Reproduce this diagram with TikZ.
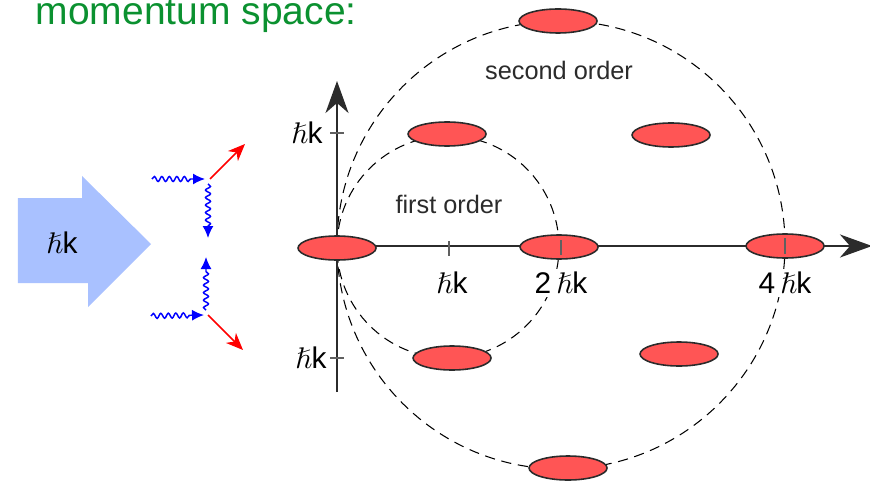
\documentclass[tikz,border=0pt]{standalone}
\usepackage{amssymb}
\usepackage{fontspec}
\setmainfont{Liberation Sans}
\usepackage{tikz}
\usetikzlibrary{arrows.meta,positioning,shapes.geometric,decorations.pathmorphing}
\definecolor{titlec}{HTML}{0B9130}
\definecolor{beamc}{HTML}{A9C1FF}
\definecolor{spotc}{HTML}{FF5555}
\definecolor{axisc}{HTML}{2B2B2B}
\newcommand{\hk}{$\hslash$k}
\tikzset{
  spot/.style={draw=axisc,fill=spotc,ellipse,line width=0.45pt,minimum width=0.78cm,minimum height=0.24cm,inner sep=0pt},
  orderline/.style={black,line width=0.3pt,dash pattern=on 2.9pt off 1.9pt},
  axisline/.style={axisc,line width=0.7pt,-{Stealth[length=0.32cm,width=0.23cm,inset=0.1cm]}},
  tickline/.style={axisc!75,line width=0.3pt},
  hklabel/.style={font=\fontsize{8.5}{10}\selectfont,text=black,inner sep=1pt},
  orderlabel/.style={font=\fontsize{7.2}{9}\selectfont,text=axisc},
  photon/.style={blue,line width=0.42pt,-{Latex[length=0.12cm,width=0.11cm]},decorate,
    decoration={snake,amplitude=0.25mm,segment length=0.75mm,post length=1.1mm}},
  recoil/.style={red,line width=0.45pt,-{Stealth[length=0.17cm,width=0.14cm,inset=0.05cm]}}
}

\begin{document}
\begin{tikzpicture}
  \useasboundingbox (0,0) rectangle (8.7,4.82);
  \node[anchor=base west,inner sep=0pt,text=titlec,font=\fontsize{11.1}{13}\selectfont] (title) at (0.35,4.57) {momentum space:};
  % incoming beam
  \fill[beamc] (0.18,2.84) -- (0.82,2.84) -- (0.82,3.06) -- (1.51,2.38) -- (0.88,1.75) -- (0.88,1.99) -- (0.18,1.99) -- cycle;
  \node[hklabel] (beam) at (0.62,2.39) {\hk};
  % upper vertex
  \coordinate (ua) at (1.52,3.03);
  \coordinate (ub) at (2.05,3.03);
  \coordinate (uc) at (2.08,2.98);
  \coordinate (ud) at (2.08,2.44);
  \coordinate (ue) at (2.10,3.03);
  \coordinate (uf) at (2.45,3.38);
  \draw[photon] (ua) -- (ub);
  \draw[photon] (uc) -- (ud);
  \draw[recoil] (ue) -- (uf);
  % lower vertex
  \coordinate (la) at (1.51,1.66);
  \coordinate (lb) at (2.04,1.67);
  \coordinate (lc) at (2.06,1.72);
  \coordinate (ld) at (2.06,2.25);
  \coordinate (le) at (2.08,1.67);
  \coordinate (lf) at (2.43,1.32);
  \draw[photon] (la) -- (lb);
  \draw[photon] (lc) -- (ld);
  \draw[recoil] (le) -- (lf);
  % scattering orders
  \coordinate (firstc) at (4.48,2.35);
  \coordinate (secondc) at (5.61,2.37);
  \draw[orderline] (firstc) circle (1.11);
  \draw[orderline] (secondc) circle (2.24);
  \node[orderlabel] (firstl) at (4.49,2.78) {first order};
  \node[orderlabel] (secondl) at (5.59,4.12) {second order};
  % axis labels
  \node[hklabel,fill=white] (xa) at (4.52,1.99) {\hk};
  \node[hklabel,fill=white] (xb) at (5.61,1.99) {2\,\hk};
  \node[hklabel,fill=white] (xc) at (7.85,1.99) {4\,\hk};
  \node[hklabel] (ya) at (3.07,3.49) {\hk};
  \node[hklabel] (yb) at (3.11,1.24) {\hk};
  % axes
  \coordinate (xend) at (8.72,2.36);
  \coordinate (ytop) at (3.37,4.01);
  \coordinate (ybot) at (3.37,0.90);
  \coordinate (xorg) at (3.37,2.36);
  \draw[axisline] (xorg) -- (xend);
  \draw[axisline] (ybot) -- (ytop);
  % diffraction spots
  \node[spot] (s00) at (3.37,2.34) {};
  \node[spot] (s11) at (4.47,3.48) {};
  \node[spot] (s31) at (6.71,3.47) {};
  \node[spot] (s22) at (5.58,4.61) {};
  \node[spot] (s20) at (5.59,2.35) {};
  \node[spot] (s40) at (7.85,2.36) {};
  \node[spot] (s1m) at (4.52,1.24) {};
  \node[spot] (s3m) at (6.79,1.28) {};
  \node[spot] (s2m) at (5.68,0.14) {};
  % ticks
  \draw[tickline] (4.49,2.41) -- (4.49,2.26);
  \draw[tickline] (5.61,2.42) -- (5.61,2.27);
  \draw[tickline] (7.85,2.44) -- (7.85,2.28);
  \draw[tickline] (3.30,3.49) -- (3.44,3.49);
  \draw[tickline] (3.30,1.24) -- (3.44,1.24);
\end{tikzpicture}
\end{document}
